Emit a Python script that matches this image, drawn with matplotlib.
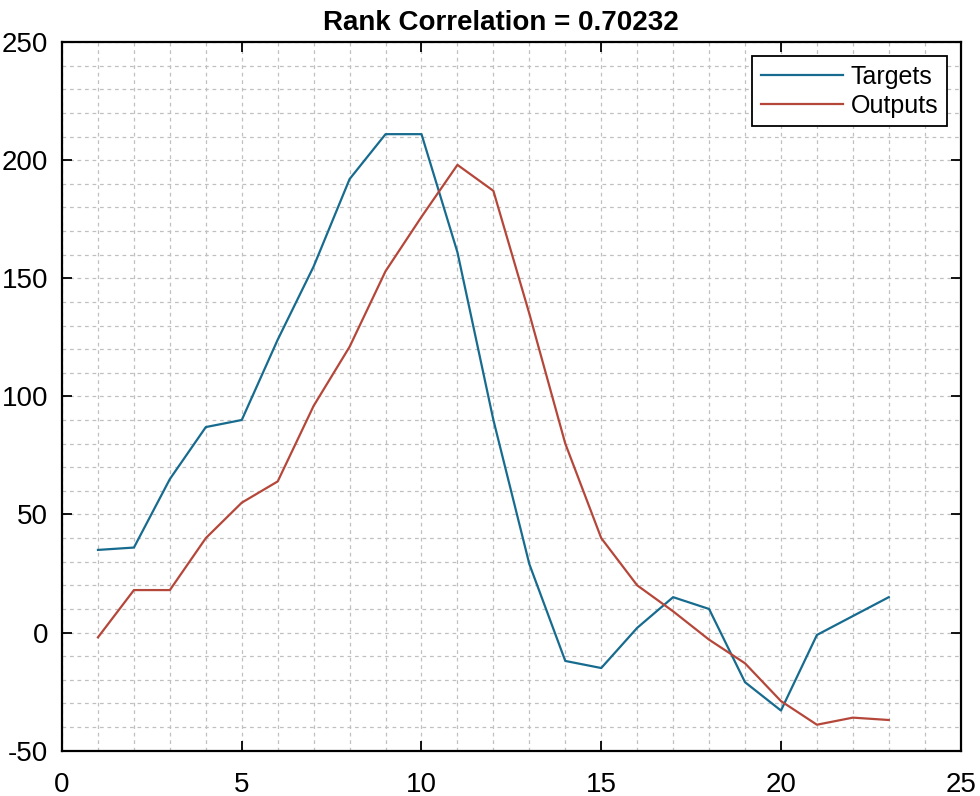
import matplotlib
matplotlib.use('Agg')
from matplotlib import pyplot as plt
from matplotlib.ticker import MultipleLocator

# values
steps = list(range(1, 24))
targets = [35, 36, 65, 87, 90, 124, 155, 192, 211, 211, 161, 90, 29, -12,
           -15, 2, 15, 10, -21, -33, -1, 7, 15]
outputs = [-2, 18, 18, 40, 55, 64, 96, 121, 153, 176, 198, 187, 135, 80,
           40, 20, 9, -3, -13, -29, -39, -36, -37]
title = 'Rank Correlation = 0.70232'

plt.rcParams['font.family'] = ['Liberation Sans', 'DejaVu Sans']
plt.rcParams['axes.unicode_minus'] = False

fig = plt.figure(figsize=(9.8, 7.96), dpi=100)
ax = fig.add_axes([0.0633, 0.0569, 0.917, 0.8903])

ax.plot(steps, targets, color='#176b8e', lw=1.6, label='Targets')
ax.plot(steps, outputs, color='#b5473a', lw=1.6, label='Outputs')

ax.set_xlim(0, 25)
ax.set_ylim(-50, 250)
ax.xaxis.set_major_locator(MultipleLocator(5))
ax.yaxis.set_major_locator(MultipleLocator(50))
ax.xaxis.set_minor_locator(MultipleLocator(1))
ax.yaxis.set_minor_locator(MultipleLocator(10))

ax.grid(which='both', color='#c0c0c0', linestyle=(0, (3, 3)), linewidth=0.9)
ax.set_axisbelow(True)

ax.tick_params(which='major', direction='in', length=7, width=1.3,
               top=True, right=True, labelsize=20)
ax.tick_params(which='minor', length=0)
ax.tick_params(axis='x', pad=15)
ax.tick_params(axis='y', pad=10)
for s in ax.spines.values():
    s.set_linewidth(1.6)

ax.set_title(title, fontsize=20, fontweight='bold', pad=9, x=0.488)

leg = ax.legend(loc='upper right', fontsize=18, handlelength=3.3,
                fancybox=False, framealpha=1, edgecolor='black',
                borderaxespad=0.55, labelspacing=0.2, handletextpad=0.3,
                borderpad=0.35)
leg.get_frame().set_linewidth(1.3)

fig.savefig('out.png', dpi=100)
